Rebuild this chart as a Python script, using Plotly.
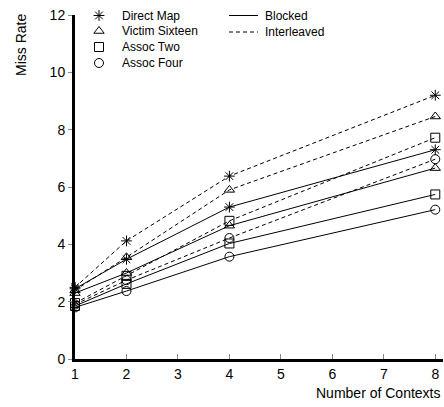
import plotly.graph_objects as go

contexts = [1, 2, 4, 8]
series_names = ["Direct Map", "Victim Sixteen", "Assoc Two", "Assoc Four"]
symbols = ["asterisk-open", "triangle-up-open", "square-open", "circle-open"]

blocked = {
    "Direct Map": [2.45, 3.48, 5.30, 7.30],
    "Victim Sixteen": [2.30, 3.00, 4.65, 6.66],
    "Assoc Two": [1.85, 2.62, 4.03, 5.74],
    "Assoc Four": [1.80, 2.37, 3.57, 5.21],
}
interleaved = {
    "Direct Map": [2.50, 4.12, 6.38, 9.20],
    "Victim Sixteen": [2.40, 3.55, 5.90, 8.46],
    "Assoc Two": [1.95, 2.90, 4.82, 7.72],
    "Assoc Four": [1.90, 2.75, 4.22, 6.97],
}
style_names = ["Blocked", "Interleaved"]
x_ticks = [1, 2, 3, 4, 5, 6, 7, 8]
y_ticks = [0, 2, 4, 6, 8, 10, 12]

DASH = "4px,3px"
fig = go.Figure()
for name, sym in zip(series_names, symbols):
    for data, dash in ((blocked, "solid"), (interleaved, DASH)):
        fig.add_trace(go.Scatter(
            x=contexts, y=data[name], mode="lines+markers",
            line=dict(color="black", width=1, dash=dash),
            marker=dict(symbol=sym, size=9, color="black", line=dict(width=1, color="black")),
            showlegend=False, cliponaxis=False,
        ))

# manual legend in a pixel-like overlay axis (x: 75..443 px, y: 15..359 px)
leg_row = [15.5, 31, 47, 63]
fig.add_trace(go.Scatter(
    x=[99] * 4, y=leg_row, mode="markers",
    marker=dict(symbol=symbols, size=9, color="black", line=dict(width=1, color="black")),
    xaxis="x2", yaxis="y2", showlegend=False, cliponaxis=False,
))
annotations = [
    dict(text=s, xref="x2", yref="y2", x=120, y=yy, xanchor="left",
         yanchor="middle", showarrow=False, font=dict(size=12))
    for s, yy in zip(series_names, leg_row)
]
style_rows = [15.5, 32]
for sname, dash, yy in zip(style_names, ["solid", "4px,3px"], style_rows):
    fig.add_trace(go.Scatter(
        x=[229, 258], y=[yy, yy], mode="lines",
        line=dict(color="black", width=1, dash=dash),
        xaxis="x2", yaxis="y2", showlegend=False, cliponaxis=False,
    ))
annotations += [
    dict(text=s, xref="x2", yref="y2", x=263, y=yy, xanchor="left",
         yanchor="middle", showarrow=False, font=dict(size=12))
    for s, yy in zip(style_names, style_rows)
]

font_family = "Liberation Sans, Arial, sans-serif"
annotations += [
    dict(text="Number of Contexts", xref="paper", yref="paper", x=1, y=0,
         xanchor="right", yanchor="top", yshift=-24, xshift=0, showarrow=False,
         font=dict(size=14)),
    dict(text="Miss Rate", xref="paper", yref="paper", x=0, y=1,
         xanchor="center", yanchor="top", xshift=-54, yshift=3, textangle=-90,
         showarrow=False, font=dict(size=14)),
]
fig.update_layout(
    width=444, height=407,
    margin=dict(l=75, r=1, t=15, b=48),
    paper_bgcolor="white", plot_bgcolor="white",
    font=dict(family=font_family, color="black", size=14),
    xaxis=dict(range=[1, 8.15], tickvals=x_ticks, showgrid=False, zeroline=False,
               showline=True, linecolor="black", linewidth=3,
               ticks="inside", ticklen=5, tickcolor="#888", tickfont=dict(size=14)),
    yaxis=dict(range=[0, 12], tickvals=y_ticks, showgrid=False, zeroline=False,
               showline=True, linecolor="black", linewidth=3,
               ticks="outside", ticklen=4, tickcolor="#888", tickfont=dict(size=14)),
    xaxis2=dict(range=[75, 443], domain=[0, 1], visible=False, overlaying="x",
                anchor="y2", fixedrange=True),
    yaxis2=dict(range=[359, 15], domain=[0, 1], visible=False, overlaying="y",
                anchor="x2", fixedrange=True),
    showlegend=False,
    annotations=annotations,
)
fig.write_html("out.html")
